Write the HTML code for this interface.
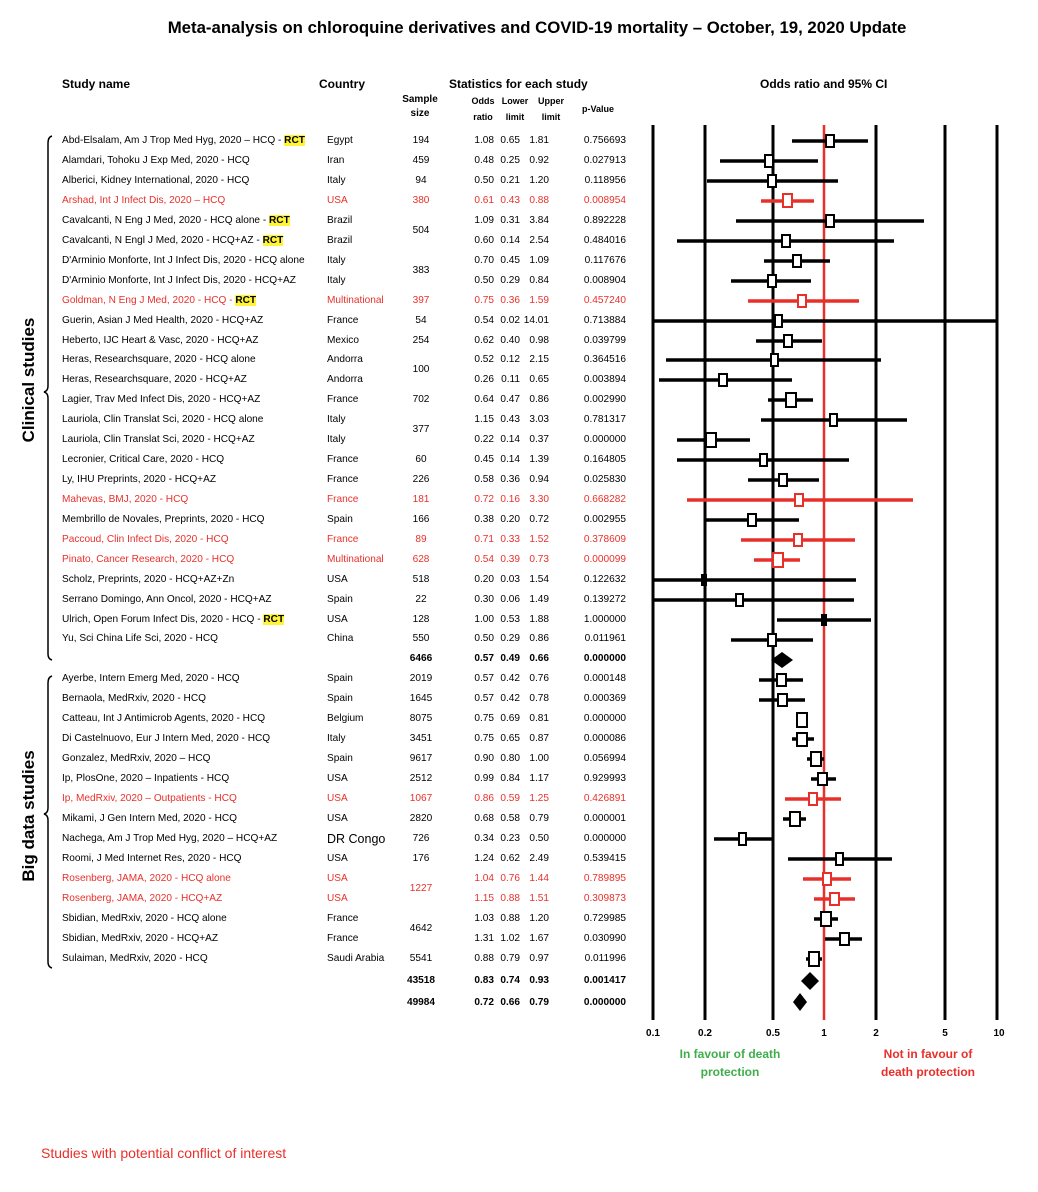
<!DOCTYPE html>
<html><head><meta charset="utf-8"><style>
body{margin:0;width:1038px;height:1192px;background:#fff;position:relative;font-family:"Liberation Sans",sans-serif;color:#000;overflow:hidden}
.t{position:absolute;white-space:nowrap}
.r{position:absolute;left:0;width:640px;height:14px;line-height:14px;font-size:10.1px}
.r span{position:absolute;white-space:nowrap}
.n{left:62px}.c{left:327px}.s{left:396px;width:50px;text-align:center}.o{left:464px;width:30px;text-align:right}.l{left:490px;width:30px;text-align:right}.u{left:514px;width:35px;text-align:right}.p{left:566px;width:60px;text-align:right}
.red{color:#e8302a}
.bd{font-weight:bold}
b.rct{background:#fff43a;color:#000}
.h{position:absolute;font-weight:bold;font-size:12px;white-space:nowrap}
.hs{position:absolute;font-weight:bold;font-size:9px;text-align:center;line-height:16px}
</style></head><body>
<div class="t" style="left:0;width:1074px;top:18px;text-align:center;font-weight:bold;font-size:16.8px">Meta-analysis on chloroquine derivatives and COVID-19 mortality – October, 19, 2020 Update</div>
<div class="h" style="left:62px;top:77px">Study name</div>
<div class="h" style="left:319px;top:77px">Country</div>
<div class="h" style="left:449px;top:77px">Statistics for each study</div>
<div class="h" style="left:760px;top:77px">Odds ratio and 95% CI</div>
<div class="hs" style="left:395px;top:93px;width:50px;font-size:10px;line-height:14px">Sample<br>size</div>
<div class="hs" style="left:468px;top:93px;width:30px">Odds<br>ratio</div>
<div class="hs" style="left:500px;top:93px;width:30px">Lower<br>limit</div>
<div class="hs" style="left:536px;top:93px;width:30px">Upper<br>limit</div>
<div class="hs" style="left:578px;top:101px;width:40px">p-Value</div>

<div class="t" style="left:29px;top:380px;transform:translate(-50%,-50%) rotate(-90deg);font-weight:bold;font-size:17px">Clinical studies</div>
<div class="t" style="left:29px;top:816px;transform:translate(-50%,-50%) rotate(-90deg);font-weight:bold;font-size:17px">Big data studies</div>

<div class="r" style="top:134px"><span class="n">Abd-Elsalam, Am J Trop Med Hyg, 2020 – HCQ - <b class="rct">RCT</b></span><span class="c">Egypt</span><span class="s">194</span><span class="o">1.08</span><span class="l">0.65</span><span class="u">1.81</span><span class="p">0.756693</span></div>
<div class="r" style="top:154px"><span class="n">Alamdari, Tohoku J Exp Med, 2020 - HCQ</span><span class="c">Iran</span><span class="s">459</span><span class="o">0.48</span><span class="l">0.25</span><span class="u">0.92</span><span class="p">0.027913</span></div>
<div class="r" style="top:174px"><span class="n">Alberici, Kidney International, 2020 - HCQ</span><span class="c">Italy</span><span class="s">94</span><span class="o">0.50</span><span class="l">0.21</span><span class="u">1.20</span><span class="p">0.118956</span></div>
<div class="r red" style="top:194px"><span class="n">Arshad, Int J Infect Dis, 2020 – HCQ</span><span class="c">USA</span><span class="s">380</span><span class="o">0.61</span><span class="l">0.43</span><span class="u">0.88</span><span class="p">0.008954</span></div>
<div class="r" style="top:214px"><span class="n">Cavalcanti, N Eng J Med, 2020 - HCQ alone - <b class="rct">RCT</b></span><span class="c">Brazil</span><span class="o">1.09</span><span class="l">0.31</span><span class="u">3.84</span><span class="p">0.892228</span></div>
<div class="r" style="top:224px"><span class="s">504</span></div>
<div class="r" style="top:234px"><span class="n">Cavalcanti, N Engl J Med, 2020 - HCQ+AZ - <b class="rct">RCT</b></span><span class="c">Brazil</span><span class="o">0.60</span><span class="l">0.14</span><span class="u">2.54</span><span class="p">0.484016</span></div>
<div class="r" style="top:254px"><span class="n">D'Arminio Monforte, Int J Infect Dis, 2020 - HCQ alone</span><span class="c">Italy</span><span class="o">0.70</span><span class="l">0.45</span><span class="u">1.09</span><span class="p">0.117676</span></div>
<div class="r" style="top:264px"><span class="s">383</span></div>
<div class="r" style="top:274px"><span class="n">D'Arminio Monforte, Int J Infect Dis, 2020 - HCQ+AZ</span><span class="c">Italy</span><span class="o">0.50</span><span class="l">0.29</span><span class="u">0.84</span><span class="p">0.008904</span></div>
<div class="r red" style="top:294px"><span class="n">Goldman, N Eng J Med, 2020 - HCQ - <b class="rct">RCT</b></span><span class="c">Multinational</span><span class="s">397</span><span class="o">0.75</span><span class="l">0.36</span><span class="u">1.59</span><span class="p">0.457240</span></div>
<div class="r" style="top:314px"><span class="n">Guerin, Asian J Med Health, 2020 - HCQ+AZ</span><span class="c">France</span><span class="s">54</span><span class="o">0.54</span><span class="l">0.02</span><span class="u">14.01</span><span class="p">0.713884</span></div>
<div class="r" style="top:334px"><span class="n">Heberto, IJC Heart &amp; Vasc, 2020 - HCQ+AZ</span><span class="c">Mexico</span><span class="s">254</span><span class="o">0.62</span><span class="l">0.40</span><span class="u">0.98</span><span class="p">0.039799</span></div>
<div class="r" style="top:353px"><span class="n">Heras, Researchsquare, 2020 - HCQ alone</span><span class="c">Andorra</span><span class="o">0.52</span><span class="l">0.12</span><span class="u">2.15</span><span class="p">0.364516</span></div>
<div class="r" style="top:363px"><span class="s">100</span></div>
<div class="r" style="top:373px"><span class="n">Heras, Researchsquare, 2020 - HCQ+AZ</span><span class="c">Andorra</span><span class="o">0.26</span><span class="l">0.11</span><span class="u">0.65</span><span class="p">0.003894</span></div>
<div class="r" style="top:393px"><span class="n">Lagier, Trav Med Infect Dis, 2020 - HCQ+AZ</span><span class="c">France</span><span class="s">702</span><span class="o">0.64</span><span class="l">0.47</span><span class="u">0.86</span><span class="p">0.002990</span></div>
<div class="r" style="top:413px"><span class="n">Lauriola, Clin Translat Sci, 2020 - HCQ alone</span><span class="c">Italy</span><span class="o">1.15</span><span class="l">0.43</span><span class="u">3.03</span><span class="p">0.781317</span></div>
<div class="r" style="top:423px"><span class="s">377</span></div>
<div class="r" style="top:433px"><span class="n">Lauriola, Clin Translat Sci, 2020 - HCQ+AZ</span><span class="c">Italy</span><span class="o">0.22</span><span class="l">0.14</span><span class="u">0.37</span><span class="p">0.000000</span></div>
<div class="r" style="top:453px"><span class="n">Lecronier, Critical Care, 2020 - HCQ</span><span class="c">France</span><span class="s">60</span><span class="o">0.45</span><span class="l">0.14</span><span class="u">1.39</span><span class="p">0.164805</span></div>
<div class="r" style="top:473px"><span class="n">Ly, IHU Preprints, 2020 - HCQ+AZ</span><span class="c">France</span><span class="s">226</span><span class="o">0.58</span><span class="l">0.36</span><span class="u">0.94</span><span class="p">0.025830</span></div>
<div class="r red" style="top:493px"><span class="n">Mahevas, BMJ, 2020 - HCQ</span><span class="c">France</span><span class="s">181</span><span class="o">0.72</span><span class="l">0.16</span><span class="u">3.30</span><span class="p">0.668282</span></div>
<div class="r" style="top:513px"><span class="n">Membrillo de Novales, Preprints, 2020 - HCQ</span><span class="c">Spain</span><span class="s">166</span><span class="o">0.38</span><span class="l">0.20</span><span class="u">0.72</span><span class="p">0.002955</span></div>
<div class="r red" style="top:533px"><span class="n">Paccoud, Clin Infect Dis, 2020 - HCQ</span><span class="c">France</span><span class="s">89</span><span class="o">0.71</span><span class="l">0.33</span><span class="u">1.52</span><span class="p">0.378609</span></div>
<div class="r red" style="top:553px"><span class="n">Pinato, Cancer Research, 2020 - HCQ</span><span class="c">Multinational</span><span class="s">628</span><span class="o">0.54</span><span class="l">0.39</span><span class="u">0.73</span><span class="p">0.000099</span></div>
<div class="r" style="top:573px"><span class="n">Scholz, Preprints, 2020 - HCQ+AZ+Zn</span><span class="c">USA</span><span class="s">518</span><span class="o">0.20</span><span class="l">0.03</span><span class="u">1.54</span><span class="p">0.122632</span></div>
<div class="r" style="top:593px"><span class="n">Serrano Domingo, Ann Oncol, 2020 - HCQ+AZ</span><span class="c">Spain</span><span class="s">22</span><span class="o">0.30</span><span class="l">0.06</span><span class="u">1.49</span><span class="p">0.139272</span></div>
<div class="r" style="top:613px"><span class="n">Ulrich, Open Forum Infect Dis, 2020 - HCQ - <b class="rct">RCT</b></span><span class="c">USA</span><span class="s">128</span><span class="o">1.00</span><span class="l">0.53</span><span class="u">1.88</span><span class="p">1.000000</span></div>
<div class="r" style="top:632px"><span class="n">Yu, Sci China Life Sci, 2020 - HCQ</span><span class="c">China</span><span class="s">550</span><span class="o">0.50</span><span class="l">0.29</span><span class="u">0.86</span><span class="p">0.011961</span></div>
<div class="r bd" style="top:652px"><span class="s">6466</span><span class="o">0.57</span><span class="l">0.49</span><span class="u">0.66</span><span class="p">0.000000</span></div>
<div class="r" style="top:672px"><span class="n">Ayerbe, Intern Emerg Med, 2020 - HCQ</span><span class="c">Spain</span><span class="s">2019</span><span class="o">0.57</span><span class="l">0.42</span><span class="u">0.76</span><span class="p">0.000148</span></div>
<div class="r" style="top:692px"><span class="n">Bernaola, MedRxiv, 2020 - HCQ</span><span class="c">Spain</span><span class="s">1645</span><span class="o">0.57</span><span class="l">0.42</span><span class="u">0.78</span><span class="p">0.000369</span></div>
<div class="r" style="top:712px"><span class="n">Catteau, Int J Antimicrob Agents, 2020 - HCQ</span><span class="c">Belgium</span><span class="s">8075</span><span class="o">0.75</span><span class="l">0.69</span><span class="u">0.81</span><span class="p">0.000000</span></div>
<div class="r" style="top:732px"><span class="n">Di Castelnuovo, Eur J Intern Med, 2020 - HCQ</span><span class="c">Italy</span><span class="s">3451</span><span class="o">0.75</span><span class="l">0.65</span><span class="u">0.87</span><span class="p">0.000086</span></div>
<div class="r" style="top:752px"><span class="n">Gonzalez, MedRxiv, 2020 – HCQ</span><span class="c">Spain</span><span class="s">9617</span><span class="o">0.90</span><span class="l">0.80</span><span class="u">1.00</span><span class="p">0.056994</span></div>
<div class="r" style="top:772px"><span class="n">Ip, PlosOne, 2020 – Inpatients - HCQ</span><span class="c">USA</span><span class="s">2512</span><span class="o">0.99</span><span class="l">0.84</span><span class="u">1.17</span><span class="p">0.929993</span></div>
<div class="r red" style="top:792px"><span class="n">Ip, MedRxiv, 2020 – Outpatients - HCQ</span><span class="c">USA</span><span class="s">1067</span><span class="o">0.86</span><span class="l">0.59</span><span class="u">1.25</span><span class="p">0.426891</span></div>
<div class="r" style="top:812px"><span class="n">Mikami, J Gen Intern Med, 2020 - HCQ</span><span class="c">USA</span><span class="s">2820</span><span class="o">0.68</span><span class="l">0.58</span><span class="u">0.79</span><span class="p">0.000001</span></div>
<div class="r" style="top:832px"><span class="n">Nachega, Am J Trop Med Hyg, 2020 – HCQ+AZ</span><span class="c" style="font-size:12.5px">DR Congo</span><span class="s">726</span><span class="o">0.34</span><span class="l">0.23</span><span class="u">0.50</span><span class="p">0.000000</span></div>
<div class="r" style="top:852px"><span class="n">Roomi, J Med Internet Res, 2020 - HCQ</span><span class="c">USA</span><span class="s">176</span><span class="o">1.24</span><span class="l">0.62</span><span class="u">2.49</span><span class="p">0.539415</span></div>
<div class="r red" style="top:872px"><span class="n">Rosenberg, JAMA, 2020 - HCQ alone</span><span class="c">USA</span><span class="o">1.04</span><span class="l">0.76</span><span class="u">1.44</span><span class="p">0.789895</span></div>
<div class="r red" style="top:882px"><span class="s">1227</span></div>
<div class="r red" style="top:892px"><span class="n">Rosenberg, JAMA, 2020 - HCQ+AZ</span><span class="c">USA</span><span class="o">1.15</span><span class="l">0.88</span><span class="u">1.51</span><span class="p">0.309873</span></div>
<div class="r" style="top:912px"><span class="n">Sbidian, MedRxiv, 2020 - HCQ alone</span><span class="c">France</span><span class="o">1.03</span><span class="l">0.88</span><span class="u">1.20</span><span class="p">0.729985</span></div>
<div class="r" style="top:922px"><span class="s">4642</span></div>
<div class="r" style="top:932px"><span class="n">Sbidian, MedRxiv, 2020 - HCQ+AZ</span><span class="c">France</span><span class="o">1.31</span><span class="l">1.02</span><span class="u">1.67</span><span class="p">0.030990</span></div>
<div class="r" style="top:952px"><span class="n">Sulaiman, MedRxiv, 2020 - HCQ</span><span class="c">Saudi Arabia</span><span class="s">5541</span><span class="o">0.88</span><span class="l">0.79</span><span class="u">0.97</span><span class="p">0.011996</span></div>
<div class="r bd" style="top:974px"><span class="s">43518</span><span class="o">0.83</span><span class="l">0.74</span><span class="u">0.93</span><span class="p">0.001417</span></div>
<div class="r bd" style="top:996px"><span class="s">49984</span><span class="o">0.72</span><span class="l">0.66</span><span class="u">0.79</span><span class="p">0.000000</span></div>

<svg style="position:absolute;left:0;top:0" width="1038" height="1192">
<g fill="none" stroke="#000" stroke-width="1.5">
<path d="M52 136 Q48 137 48 143 L48 386 Q48 391 44 392 Q48 393 48 398 L48 654 Q48 659 52 660"/>
<path d="M52 676 Q48 677 48 683 L48 808 Q48 813 44 814 Q48 815 48 820 L48 962 Q48 967 52 968"/>
</g>
<g stroke="#000" stroke-width="3">
<line x1="653" y1="125" x2="653" y2="1020"/><line x1="705" y1="125" x2="705" y2="1020"/><line x1="773" y1="125" x2="773" y2="1020"/><line x1="876" y1="125" x2="876" y2="1020"/><line x1="945" y1="125" x2="945" y2="1020"/><line x1="997" y1="125" x2="997" y2="1020"/>
</g>
<line x1="824" y1="125" x2="824" y2="1020" stroke="#e8302a" stroke-width="2.5"/>
<g stroke="#000" stroke-width="3.5">
<line x1="792" y1="141" x2="868" y2="141"/>
<line x1="720" y1="161" x2="818" y2="161"/>
<line x1="707" y1="181" x2="838" y2="181"/>
<line x1="736" y1="221" x2="924" y2="221"/>
<line x1="677" y1="241" x2="894" y2="241"/>
<line x1="764" y1="261" x2="830" y2="261"/>
<line x1="731" y1="281" x2="811" y2="281"/>
<line x1="653" y1="321" x2="997" y2="321"/>
<line x1="756" y1="341" x2="822" y2="341"/>
<line x1="666" y1="360" x2="881" y2="360"/>
<line x1="659" y1="380" x2="792" y2="380"/>
<line x1="768" y1="400" x2="813" y2="400"/>
<line x1="761" y1="420" x2="907" y2="420"/>
<line x1="677" y1="440" x2="750" y2="440"/>
<line x1="677" y1="460" x2="849" y2="460"/>
<line x1="748" y1="480" x2="819" y2="480"/>
<line x1="704" y1="520" x2="799" y2="520"/>
<line x1="653" y1="580" x2="856" y2="580"/>
<line x1="653" y1="600" x2="854" y2="600"/>
<line x1="777" y1="620" x2="871" y2="620"/>
<line x1="731" y1="640" x2="813" y2="640"/>
<line x1="759" y1="680" x2="803" y2="680"/>
<line x1="759" y1="700" x2="805" y2="700"/>
<line x1="796" y1="720" x2="808" y2="720"/>
<line x1="792" y1="739" x2="814" y2="739"/>
<line x1="807" y1="759" x2="824" y2="759"/>
<line x1="811" y1="779" x2="836" y2="779"/>
<line x1="783" y1="819" x2="806" y2="819"/>
<line x1="714" y1="839" x2="772" y2="839"/>
<line x1="788" y1="859" x2="892" y2="859"/>
<line x1="814" y1="919" x2="838" y2="919"/>
<line x1="825" y1="939" x2="862" y2="939"/>
<line x1="806" y1="959" x2="822" y2="959"/>
</g>
<g stroke="#e8302a" stroke-width="3.5">
<line x1="761" y1="201" x2="814" y2="201"/>
<line x1="748" y1="301" x2="859" y2="301"/>
<line x1="687" y1="500" x2="913" y2="500"/>
<line x1="741" y1="540" x2="855" y2="540"/>
<line x1="754" y1="560" x2="800" y2="560"/>
<line x1="785" y1="799" x2="841" y2="799"/>
<line x1="803" y1="879" x2="851" y2="879"/>
<line x1="814" y1="899" x2="855" y2="899"/>
</g>
<g fill="#fff" stroke="#000" stroke-width="2">
<rect x="826" y="135" width="8" height="12"/>
<rect x="765" y="155" width="8" height="12"/>
<rect x="768" y="175" width="8" height="12"/>
<rect x="826" y="215" width="8" height="12"/>
<rect x="782" y="235" width="8" height="12"/>
<rect x="793" y="255" width="8" height="12"/>
<rect x="768" y="275" width="8" height="12"/>
<rect x="775" y="315" width="7" height="12"/>
<rect x="784" y="335" width="8" height="12"/>
<rect x="771" y="354" width="7" height="12"/>
<rect x="719" y="374" width="8" height="12"/>
<rect x="786" y="393" width="10" height="14"/>
<rect x="830" y="414" width="7" height="12"/>
<rect x="706" y="433" width="10" height="14"/>
<rect x="760" y="454" width="7" height="12"/>
<rect x="779" y="474" width="8" height="12"/>
<rect x="748" y="514" width="8" height="12"/>
<rect x="736" y="594" width="7" height="12"/>
<rect x="768" y="634" width="8" height="12"/>
<rect x="777" y="674" width="9" height="12"/>
<rect x="778" y="694" width="9" height="12"/>
<rect x="797" y="713" width="10" height="14"/>
<rect x="797" y="733" width="10" height="13"/>
<rect x="811" y="752" width="10" height="14"/>
<rect x="818" y="773" width="9" height="12"/>
<rect x="790" y="812" width="10" height="14"/>
<rect x="739" y="833" width="7" height="12"/>
<rect x="836" y="853" width="7" height="12"/>
<rect x="821" y="912" width="10" height="14"/>
<rect x="840" y="933" width="9" height="12"/>
<rect x="809" y="952" width="10" height="14"/>
</g>
<rect x="821" y="614" width="6" height="12" fill="#000"/>
<rect x="701" y="574" width="6" height="12" fill="#000"/>
<g fill="#fff" stroke="#e8302a" stroke-width="2">
<rect x="783" y="194" width="9" height="13"/>
<rect x="798" y="295" width="8" height="12"/>
<rect x="795" y="494" width="8" height="12"/>
<rect x="794" y="534" width="8" height="12"/>
<rect x="773" y="553" width="10" height="14"/>
<rect x="809" y="793" width="8" height="12"/>
<rect x="823" y="873" width="8" height="12"/>
<rect x="830" y="893" width="9" height="12"/>
</g>
<g fill="#000">
<polygon points="771,660 782,652 793,660 782,668"/>
<polygon points="801,981 810,972 819,981 810,990"/>
<polygon points="793,1002 800,993 807,1002 800,1011"/>
</g>
<g font-family="Liberation Sans, sans-serif" font-size="10" font-weight="bold" text-anchor="middle">
<text x="653" y="1036">0.1</text><text x="705" y="1036">0.2</text><text x="773" y="1036">0.5</text><text x="824" y="1036">1</text><text x="876" y="1036">2</text><text x="945" y="1036">5</text><text x="999" y="1036">10</text>
</g>
<g font-family="Liberation Sans, sans-serif" font-size="12" font-weight="bold" text-anchor="middle">
<text x="730" y="1058" fill="#3fae4a">In favour of death</text><text x="730" y="1076" fill="#3fae4a">protection</text>
<text x="928" y="1058" fill="#e8302a">Not in favour of</text><text x="928" y="1076" fill="#e8302a">death protection</text>
</g>
<text x="41" y="1158" font-family="Liberation Sans, sans-serif" font-size="14" fill="#e8302a">Studies with potential conflict of interest</text>
</svg>
</body></html>
